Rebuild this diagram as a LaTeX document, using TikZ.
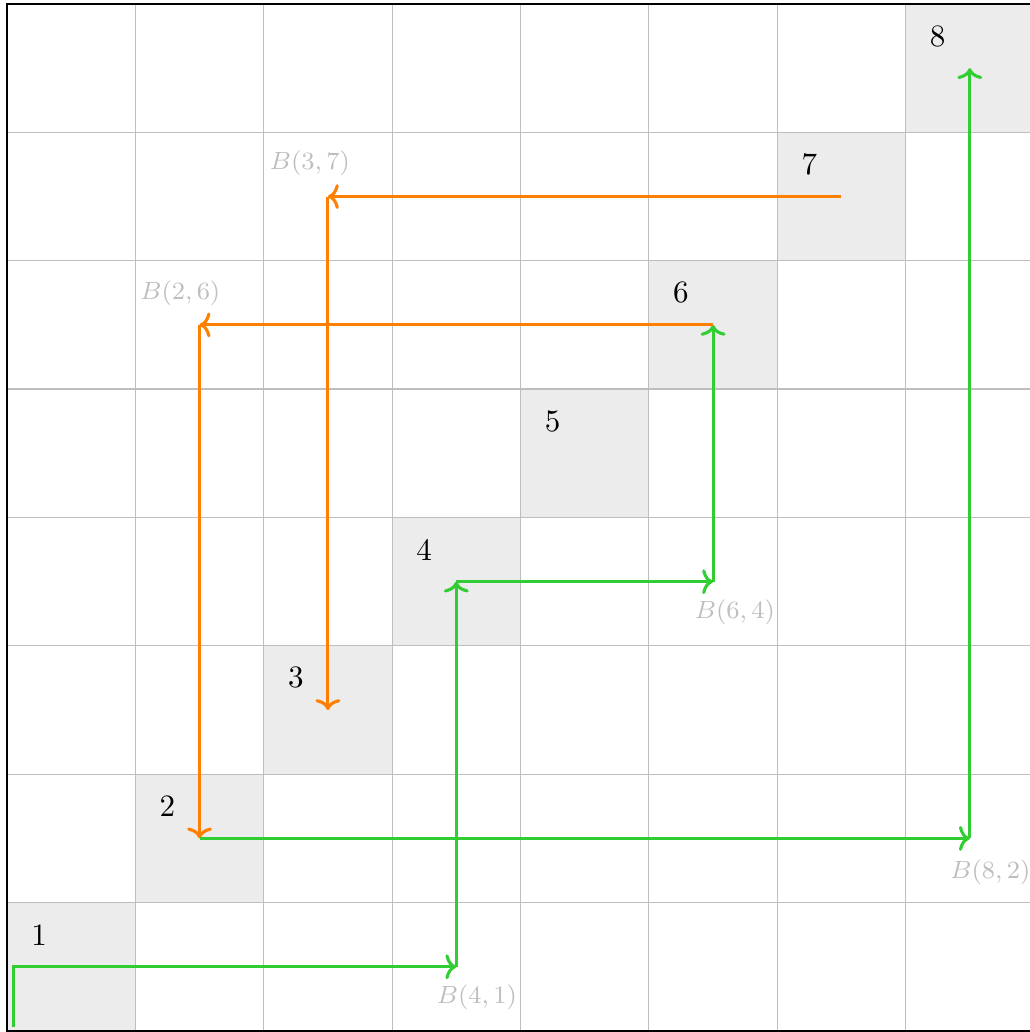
\documentclass[tikz,border=0pt]{standalone}
\usetikzlibrary{arrows.meta}
\definecolor{pgreen}{RGB}{50,205,50}
\definecolor{porange}{RGB}{255,128,0}
\definecolor{cellgray}{RGB}{236,236,236}
\definecolor{gridgray}{RGB}{190,190,190}
\definecolor{labgray}{RGB}{190,190,190}
\begin{document}
\begin{tikzpicture}[x=1.45cm,y=1.45cm,
  gpath/.style={draw=pgreen,line width=1pt,-{To[length=3.5pt,width=8pt]}},
  opath/.style={draw=porange,line width=1pt,-{To[length=3.5pt,width=8pt]}},
  gridline/.style={draw=gridgray,line width=0.4pt},
  numlab/.style={inner sep=0pt,font=\normalsize},
  blab/.style={inner sep=0pt,text=labgray,font=\footnotesize}]
\useasboundingbox (-0.0545,-0.008) rectangle (7.967,8.031);
\foreach \i in {1,...,8} \fill[cellgray] (\i-1,\i-1) rectangle (\i,\i);
\foreach \k in {1,...,7} {
  \draw[gridline] (\k,0) -- (\k,8);
  \draw[gridline] (0,\k) -- (8,\k);
}
\draw[black,line width=0.8pt] (0,0) rectangle (8,8);
\foreach \i in {1,...,8} \node[numlab] (n\i) at (\i-0.75,\i-0.25) {\i};
\coordinate (s) at (0.05,0.03);
\coordinate (c0) at (0.05,0.5);
\coordinate (q1) at (3.5,0.5);
\coordinate (q2) at (3.5,3.5);
\coordinate (q3) at (5.5,3.5);
\coordinate (q4) at (5.5,5.5);
\coordinate (q5) at (1.5,5.5);
\coordinate (q6) at (1.5,1.5);
\coordinate (q7) at (7.5,1.5);
\coordinate (q8) at (7.5,7.5);
\coordinate (r1) at (6.5,6.5);
\coordinate (r2) at (2.5,6.5);
\coordinate (r3) at (2.5,2.5);
\draw[gpath] (s) -- (c0) -- (q1);
\draw[gpath] (q1) -- (q2);
\draw[gpath] (q2) -- (q3);
\draw[gpath] (q3) -- (q4);
\draw[opath] (q4) -- (q5);
\draw[opath] (q5) -- (q6);
\draw[gpath] (q6) -- (q7);
\draw[gpath] (q7) -- (q8);
\draw[opath] (r1) -- (r2);
\draw[opath] (r2) -- (r3);
\node[blab] (l41) at ([shift={(0.16,-0.24)}]q1) {$B(4,1)$};
\node[blab] (l64) at ([shift={(0.17,-0.24)}]q3) {$B(6,4)$};
\node[blab] (l82) at ([shift={(0.16,-0.26)}]q7) {$B(8,2)$};
\node[blab] (l26) at ([shift={(-0.15,0.25)}]q5) {$B(2,6)$};
\node[blab] (l37) at ([shift={(-0.14,0.26)}]r2) {$B(3,7)$};
\end{tikzpicture}
\end{document}
